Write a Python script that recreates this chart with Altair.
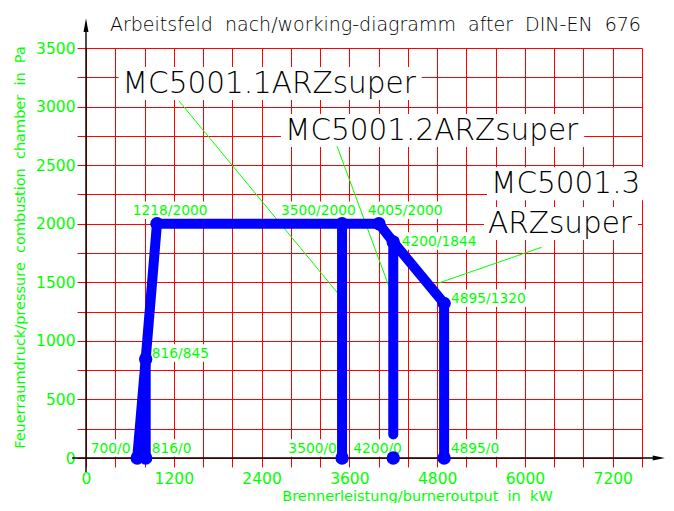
import altair as alt
import pandas as pd

FONT = "DejaVu Sans"
GREEN = "#00ff00"
RED = "#ff0000"
BLUE = "#0000ff"
NB = "\u00a0\u00a0"

# ---- axes / grid ----
X_MAX = 7600
Y_MAX = 3500
PLOT_W = 556
PLOT_H = 410
KX = PLOT_W / X_MAX
KY = PLOT_H / Y_MAX

x_ticks = list(range(0, 7601, 400))
y_ticks = list(range(0, 3501, 250))

TITLE = NB.join(["Arbeitsfeld", "nach/working-diagramm", "after", "DIN-EN", "676"])
X_TITLE = NB.join(["Brennerleistung/burneroutput", "in", "kW"])
Y_TITLE = NB.join(["Feuerraumdruck/pressure", "combustion", "chamber", "in", "Pa"])

# title anchor (left edge / baseline, data units)
title_x = [328]
title_y = [3645]

# ---- blue working-field boundary (as drawn in the picture) ----
path_id = ["a", "a", "b", "b", "b", "b", "b", "b", "b", "c", "c", "d", "d"]
path_order = [0, 1, 0, 1, 2, 3, 4, 5, 6, 0, 1, 0, 1]
path_x = [700, 816, 816, 816, 970, 4005, 4200, 4895, 4895, 3500, 3500, 4200, 4200]
path_y = [0, 845, 0, 845, 2000, 2000, 1844, 1320, 0, 2000, 0, 1844, 200]

pt_x = [700, 816, 816, 970, 3500, 4005, 4200, 4895, 3500, 4200, 4895]
pt_y = [0, 0, 845, 2000, 2000, 2000, 1844, 1320, 0, 0, 0]

# ---- green point labels (left edge / baseline, in data units) ----
lbl_text = ["700/0", "816/0", "816/845", "1218/2000", "3500/2000", "4005/2000",
            "4200/1844", "4895/1320", "3500/0", "4200/0", "4895/0"]
lbl_x = [64, 898, 898, 638, 2665, 3850, 4315, 4989, 2766, 3654, 4985]
lbl_y = [45, 45, 856, 2074, 2074, 2074, 1812, 1323, 45, 45, 45]

# ---- model labels (left edge / baseline, in data units) ----
model_text = ["MC5001.1ARZsuper", "MC5001.2ARZsuper", "MC5001.3", "ARZsuper"]
model_x = [500, 2720, 5536, 5495]
model_y = [3116, 2715, 2260, 1921]

# ---- leader lines ----
lead_x = [1271, 3431, 6229]
lead_y = [3048, 2663, 1799]
lead_x2 = [3486, 4201, 4702]
lead_y2 = [1374, 1363, 1468]

# ---- axis lines & arrows ----
axis_x = [-190, 0]
axis_x2 = [7830, 0]
axis_y = [0, -120]
axis_y2 = [0, 3696]
arrow_x = [0, 7830]
arrow_y = [3696, 0]
arrow_shape = ["M0,-1L0.36,1L-0.36,1Z", "M1,0L-1,0.4L-1,-0.4Z"]
arrow_size = [190, 150]

LBL_FS = 13.8
MODEL_FS = 29.5

CW = {"0": .636, "1": .636, "2": .636, "3": .636, "4": .636, "5": .636, "6": .636,
      "7": .636, "8": .636, "9": .636, "/": .337, ".": .318, "M": .863, "C": .698,
      "A": .684, "R": .695, "Z": .685, "s": .521, "u": .634, "p": .635, "e": .615,
      "r": .411}


def tw(s, fs):
    return sum(CW.get(c, .6) for c in s) * fs


xscale = alt.Scale(domain=[0, X_MAX], nice=False, zero=False)
yscale = alt.Scale(domain=[0, Y_MAX], nice=False, zero=False)

xaxis = alt.Axis(values=x_ticks, labelExpr="datum.value % 1200 == 0 ? datum.label : ''",
                 format="d", grid=True, gridColor=RED, gridWidth=1, gridOpacity=1,
                 tickColor=RED, tickSize=9, tickWidth=1, domain=False,
                 labelColor=GREEN, labelFont=FONT, labelFontSize=15.5, labelPadding=4,
                 labelFlush=False, labelOverlap=False,
                 title=X_TITLE, titleColor=GREEN, titleFont=FONT, titleFontSize=14.5,
                 titleFontWeight="normal", titleX=331, titleY=42,
                 titleBaseline="alphabetic", titleAlign="center")
yaxis = alt.Axis(values=y_ticks, labelExpr="datum.value % 500 == 0 ? datum.label : ''",
                 format="d", grid=True, gridColor=RED, gridWidth=1, gridOpacity=1,
                 tickColor=RED, tickSize=9, tickWidth=1, domain=False,
                 labelColor=GREEN, labelFont=FONT, labelFontSize=15.5, labelPadding=2,
                 labelFlush=False, labelOverlap=False,
                 title=Y_TITLE, titleColor=GREEN, titleFont=FONT, titleFontSize=14.5,
                 titleFontWeight="normal", titleX=-62, titleY=199,
                 titleBaseline="alphabetic", titleAlign="center", titleAngle=270)


def X(f="x"):
    return alt.X(f + ":Q", scale=xscale, axis=xaxis)


def Y(f="y"):
    return alt.Y(f + ":Q", scale=yscale, axis=yaxis)


lines_df = pd.DataFrame({"x": path_x, "y": path_y, "seg": path_id, "o": path_order})
pts_df = pd.DataFrame({"x": pt_x, "y": pt_y})
lbl_df = pd.DataFrame({"x": lbl_x, "y": lbl_y, "t": lbl_text})
model_df = pd.DataFrame({"x": model_x, "y": model_y, "t": model_text})
title_df = pd.DataFrame({"x": title_x, "y": title_y, "t": [TITLE]})
lead_df = pd.DataFrame({"x": lead_x, "y": lead_y, "x2": lead_x2, "y2": lead_y2})
axis_df = pd.DataFrame({"x": axis_x, "y": axis_y, "x2": axis_x2, "y2": axis_y2})
arrow_df = pd.DataFrame({"x": arrow_x, "y": arrow_y, "s": arrow_shape, "z": arrow_size})

box_rows = []
for t, x, y in zip(lbl_text, lbl_x, lbl_y):
    box_rows.append({"x": x - 3 / KX, "x2": x + (tw(t, LBL_FS) + 3) / KX,
                     "y": y - 4 / KY, "y2": y + 13.5 / KY})
for t, x, y in zip(model_text, model_x, model_y):
    box_rows.append({"x": x - 4 / KX, "x2": x + (tw(t, MODEL_FS) + 6) / KX,
                     "y": y - 7 / KY, "y2": y + 26 / KY})
box_df = pd.DataFrame(box_rows)

boxes = alt.Chart(box_df).mark_rect(color="white", opacity=1).encode(
    x=X(), x2="x2:Q", y=Y(), y2="y2:Q")

labels = alt.Chart(lbl_df).mark_text(align="left", baseline="alphabetic", font=FONT,
                                      fontSize=LBL_FS, color=GREEN).encode(
    x=X(), y=Y(), text="t:N")

models = alt.Chart(model_df).mark_text(align="left", baseline="alphabetic", font=FONT,
                                        fontSize=MODEL_FS, fontWeight=200,
                                        color="black").encode(
    x=X(), y=Y(), text="t:N")

title = alt.Chart(title_df).mark_text(align="left", baseline="alphabetic", font=FONT,
                                       fontSize=19, fontWeight=200,
                                       color="black").encode(
    x=X(), y=Y(), text="t:N")

axes_lines = alt.Chart(axis_df).mark_rule(color="black", strokeWidth=1.4).encode(
    x=X(), x2="x2:Q", y=Y(), y2="y2:Q")

arrows = alt.Chart(arrow_df).mark_point(filled=True, color="black", opacity=1,
                                         strokeWidth=0).encode(
    x=X(), y=Y(), shape=alt.Shape("s:N", scale=None),
    size=alt.Size("z:Q", scale=None))

leaders = alt.Chart(lead_df).mark_rule(color=GREEN, strokeWidth=1).encode(
    x=X(), x2="x2:Q", y=Y(), y2="y2:Q")

blue_lines = alt.Chart(lines_df).mark_line(color=BLUE, strokeWidth=10, strokeCap="round",
                                            strokeJoin="round").encode(
    x=X(), y=Y(), detail="seg:N", order="o:Q")

dots = alt.Chart(pts_df).mark_circle(color=BLUE, size=180, opacity=1).encode(x=X(), y=Y())

chart = alt.layer(boxes, labels, models, title, axes_lines, arrows, leaders,
                  blue_lines, dots).properties(
    width=PLOT_W, height=PLOT_H,
    autosize=alt.AutoSizeParams(type="none"),
    padding={"left": 78, "top": 40, "right": 24, "bottom": 45},
    background="white",
).configure_view(stroke=None)

chart.save("out.html", embed_options={"renderer": "svg", "actions": False})
